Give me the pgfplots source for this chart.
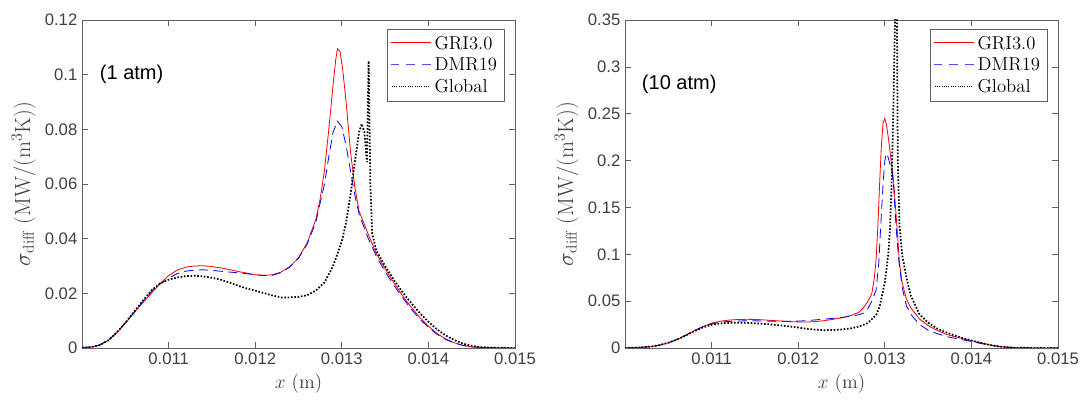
\documentclass[border=0pt]{standalone}
\usepackage{pgfplots}
\pgfplotsset{compat=1.18}
\usepackage{fontspec}
\newfontfamily\helv{Liberation Sans}
\definecolor{axgray}{gray}{0.38}
\definecolor{txtgray}{gray}{0.25}
\definecolor{legblue}{rgb}{0.3,0.3,1}

% legend samples built from coloured rules
\newcommand{\legsolid}{{\color{red}\rule[-0.35pt]{30pt}{0.7pt}}}
\newcommand{\legdash}{{\color{legblue}\rule[-0.35pt]{6.5pt}{0.7pt}\hspace{5.25pt}%
  \rule[-0.35pt]{6.5pt}{0.7pt}\hspace{5.25pt}\rule[-0.35pt]{6.5pt}{0.7pt}}}
\newcommand{\legdot}{{\color{black}\hbox to 30pt{\leaders\hbox to 1.7pt{\hss\rule[-0.35pt]{0.7pt}{0.7pt}\hss}\hfill}}}

\pgfplotsset{
  panel/.style={
    scale only axis,
    width=324.75pt, height=246pt,
    xmin=0.010, xmax=0.015, ymin=0,
    xtick={0.011,0.012,0.013,0.014,0.015},
    scaled x ticks=false, scaled y ticks=false,
    xticklabel style={/pgf/number format/fixed, /pgf/number format/precision=3},
    yticklabel style={/pgf/number format/fixed, /pgf/number format/precision=3},
    /pgf/number format/assume math mode=true,
    tick label style={font=\helv\fontsize{12.5}{14}\selectfont, text=txtgray},
    xlabel style={font=\fontsize{14.5}{16}\selectfont, text=txtgray},
    ylabel style={font=\fontsize{16.5}{18}\selectfont, text=txtgray},
    axis line style={axgray, line width=0.5pt},
    every tick/.style={axgray, line width=0.5pt},
    major tick length=4.5pt,
    tick align=inside,
    xlabel={$x$ (m)},
    ylabel={$\sigma_{\mathrm{diff}}$ (MW/(m$^3$K))},
    legend cell align=left,
    legend style={at={(0.975,0.973)}, anchor=north east, draw=axgray,
      font=\fontsize{14}{16}\selectfont, inner sep=2.5pt,
      nodes={inner sep=2.6pt}},
  },
  gri/.style={color=red, line width=0.6pt,
    legend image code/.code={\node[anchor=west, inner sep=0pt] at (0pt,0pt) {\legsolid};}},
  dmr/.style={color=blue, line width=0.6pt, dash pattern=on 7pt off 4pt,
    legend image code/.code={\node[anchor=west, inner sep=0pt] at (0pt,0pt) {\legdash};}},
  glob/.style={color=black, line width=1.3pt, dash pattern=on 1.2pt off 1.3pt,
    legend image code/.code={\node[anchor=west, inner sep=0pt] at (0pt,0pt) {\legdot};}},
}

\begin{document}
\begin{tikzpicture}
\useasboundingbox (-61.5pt,-41.25pt) rectangle (750.75pt,261pt);

% ---- 1 atm ----
\begin{axis}[panel, at={(0pt,0pt)}, ymax=0.12, ytick={0,0.02,0.04,0.06,0.08,0.1,0.12}]
\addplot[gri] coordinates {
(0.0100,0.0000)(0.0101,0.0003)(0.0102,0.0010)(0.0103,0.0027)(0.0104,0.0055)
(0.0105,0.0090)(0.0106,0.0128)(0.0107,0.0165)(0.0108,0.0200)(0.0109,0.0235)
(0.0110,0.0265)(0.0111,0.0285)(0.0112,0.0296)(0.0113,0.0300)(0.0114,0.0301)
(0.0115,0.0298)(0.0116,0.0293)(0.0117,0.0287)(0.0118,0.0280)(0.0119,0.0274)
(0.0120,0.0268)(0.0121,0.0266)(0.0122,0.0268)(0.0123,0.0278)(0.0124,0.0298)
(0.0125,0.0330)(0.0126,0.0385)(0.0127,0.0470)(0.01275,0.0545)(0.0128,0.0650)
(0.01285,0.0800)(0.0129,0.0965)(0.01293,0.1055)(0.01295,0.1095)(0.01298,0.1085)
(0.01301,0.1020)(0.01305,0.0900)(0.0131,0.0720)(0.01315,0.0590)(0.0132,0.0500)
(0.0133,0.0420)(0.0134,0.0345)(0.0135,0.0290)(0.0136,0.0240)(0.0137,0.0192)
(0.0138,0.0150)(0.0139,0.0112)(0.0140,0.0080)(0.0141,0.0053)(0.0142,0.0033)
(0.0143,0.0019)(0.0144,0.0010)(0.0145,0.0004)(0.0147,0.0001)(0.0150,0.0000)
};
\addlegendentry{GRI3.0}
\addplot[dmr] coordinates {
(0.0100,0.0002)(0.0101,0.0004)(0.0102,0.0011)(0.0103,0.0028)(0.0104,0.0056)
(0.0105,0.0092)(0.0106,0.0130)(0.0107,0.0168)(0.0108,0.0205)(0.01085,0.0226)
(0.0109,0.0234)(0.0110,0.0255)(0.0111,0.0272)(0.0112,0.0281)(0.0113,0.0285)
(0.0114,0.0286)(0.0115,0.0284)(0.0116,0.0281)(0.0117,0.0278)(0.0118,0.0275)
(0.0119,0.0272)(0.0120,0.0268)(0.0121,0.0265)(0.0122,0.0266)(0.0123,0.0276)
(0.0124,0.0296)(0.0125,0.0328)(0.0126,0.0380)(0.0127,0.0460)(0.0128,0.0600)
(0.01285,0.0700)(0.0129,0.0790)(0.01295,0.0830)(0.0130,0.0810)(0.01305,0.0740)
(0.0131,0.0650)(0.01315,0.0560)(0.0132,0.0490)(0.0133,0.0405)(0.0134,0.0335)
(0.0135,0.0280)(0.0136,0.0230)(0.0137,0.0185)(0.0138,0.0143)(0.0139,0.0106)
(0.0140,0.0075)(0.0141,0.0050)(0.0142,0.0031)(0.0143,0.0018)(0.0144,0.0009)
(0.0145,0.0004)(0.0147,0.0001)(0.0150,0.0000)
};
\addlegendentry{DMR19}
\addplot[glob] coordinates {
(0.0100,0.0001)(0.0101,0.0003)(0.0102,0.0010)(0.0103,0.0027)(0.0104,0.0056)
(0.0105,0.0092)(0.0106,0.0132)(0.0107,0.0172)(0.0108,0.0210)(0.0109,0.0236)
(0.0110,0.0250)(0.0111,0.0258)(0.0112,0.0263)(0.0113,0.0264)(0.0114,0.0262)
(0.0115,0.0257)(0.0116,0.0250)(0.0117,0.0240)(0.0118,0.0228)(0.0119,0.0218)
(0.0120,0.0210)(0.0121,0.0201)(0.0122,0.0192)(0.0123,0.0185)(0.0124,0.0185)
(0.0125,0.0187)(0.0126,0.0193)(0.0127,0.0210)(0.0128,0.0240)(0.0129,0.0300)
(0.0130,0.0390)(0.01305,0.0460)(0.0131,0.0560)(0.01315,0.0680)(0.0132,0.0790)
(0.01323,0.0820)(0.01326,0.0790)(0.01329,0.0680)(0.01331,0.1050)(0.01333,0.0600)
(0.01335,0.0420)(0.0134,0.0355)(0.0135,0.0300)(0.0136,0.0250)(0.0137,0.0205)
(0.0138,0.0165)(0.0139,0.0128)(0.0140,0.0096)(0.0141,0.0068)(0.0142,0.0046)
(0.0143,0.0029)(0.0144,0.0016)(0.0145,0.0008)(0.0146,0.0003)(0.0148,0.0001)
(0.0150,0.0000)
};
\addlegendentry{Global}
\node[anchor=west, inner sep=0pt, font=\helv\fontsize{15}{17}\selectfont]
  at (axis cs:0.010204,0.1) {(1 atm)};
\end{axis}

% ---- 10 atm ----
\begin{axis}[panel, at={(407.25pt,0pt)}, ymax=0.35,
  ytick={0,0.05,0.1,0.15,0.2,0.25,0.3,0.35}]
\addplot[gri] coordinates {
(0.0100,0.0000)(0.0101,0.0003)(0.0102,0.0008)(0.0103,0.0014)(0.0104,0.0030)
(0.0105,0.0055)(0.0106,0.0090)(0.0107,0.0135)(0.0108,0.0185)(0.0109,0.0230)
(0.0110,0.0265)(0.0111,0.0285)(0.0112,0.0298)(0.0113,0.0304)(0.0114,0.0306)
(0.0115,0.0305)(0.0116,0.0300)(0.0117,0.0294)(0.0118,0.0288)(0.0119,0.0282)
(0.0120,0.0278)(0.0121,0.0277)(0.0122,0.0282)(0.0123,0.0292)(0.0124,0.0306)
(0.0125,0.0322)(0.0126,0.0345)(0.0127,0.0380)(0.01275,0.0425)(0.0128,0.0490)
(0.01285,0.0580)(0.01288,0.0750)(0.0129,0.0950)(0.01292,0.1300)(0.01294,0.1750)
(0.01296,0.2150)(0.01298,0.2400)(0.0130,0.2450)(0.01302,0.2380)(0.01304,0.2250)
(0.01306,0.2100)(0.01308,0.1950)(0.0131,0.1800)(0.01314,0.1300)(0.01317,0.0900)
(0.0132,0.0700)(0.01325,0.0520)(0.0133,0.0430)(0.0134,0.0310)(0.0135,0.0240)
(0.0136,0.0190)(0.0137,0.0150)(0.0138,0.0122)(0.0139,0.0100)(0.0140,0.0078)
(0.0141,0.0056)(0.0142,0.0036)(0.0143,0.0020)(0.0144,0.0010)(0.0145,0.0004)
(0.0147,0.0001)(0.0150,0.0000)
};
\addlegendentry{GRI3.0}
\addplot[dmr] coordinates {
(0.0100,0.0000)(0.0101,0.0003)(0.0102,0.0008)(0.0103,0.0015)(0.0104,0.0031)
(0.0105,0.0056)(0.0106,0.0091)(0.0107,0.0136)(0.0108,0.0184)(0.0109,0.0226)
(0.0110,0.0258)(0.0111,0.0275)(0.0112,0.0284)(0.0113,0.0288)(0.0114,0.0290)
(0.0115,0.0290)(0.0116,0.0288)(0.0117,0.0286)(0.0118,0.0285)(0.0119,0.0285)
(0.0120,0.0287)(0.0121,0.0292)(0.0122,0.0300)(0.0123,0.0308)(0.0124,0.0316)
(0.0125,0.0325)(0.0126,0.0338)(0.0127,0.0355)(0.01275,0.0370)(0.0128,0.0410)
(0.01285,0.0500)(0.0129,0.0620)(0.01293,0.0900)(0.01295,0.1250)(0.01298,0.1750)
(0.0130,0.2000)(0.01302,0.2078)(0.01304,0.2030)(0.01306,0.1960)(0.01308,0.1900)
(0.0131,0.1750)(0.01313,0.1300)(0.01316,0.0950)(0.0132,0.0650)(0.01325,0.0450)
(0.0133,0.0360)(0.0134,0.0250)(0.0135,0.0190)(0.0136,0.0155)(0.0137,0.0125)
(0.0138,0.0105)(0.0139,0.0088)(0.0140,0.0070)(0.0141,0.0050)(0.0142,0.0032)
(0.0143,0.0018)(0.0144,0.0009)(0.0145,0.0003)(0.0147,0.0001)(0.0150,0.0000)
};
\addlegendentry{DMR19}
\addplot[glob] coordinates {
(0.0100,0.0000)(0.0101,0.0003)(0.0102,0.0008)(0.0103,0.0015)(0.0104,0.0031)
(0.0105,0.0056)(0.0106,0.0090)(0.0107,0.0133)(0.0108,0.0180)(0.0109,0.0220)
(0.0110,0.0248)(0.0111,0.0262)(0.0112,0.0268)(0.0113,0.0270)(0.0114,0.0268)
(0.0115,0.0264)(0.0116,0.0258)(0.0117,0.0250)(0.0118,0.0240)(0.0119,0.0230)
(0.0120,0.0218)(0.0121,0.0205)(0.0122,0.0195)(0.0123,0.0190)(0.0124,0.0192)
(0.0125,0.0198)(0.0126,0.0208)(0.0127,0.0228)(0.0128,0.0265)(0.0129,0.0350)
(0.01294,0.0440)(0.0130,0.0700)(0.01304,0.1000)(0.01306,0.1260)(0.01308,0.1800)
(0.0131,0.2600)(0.01312,0.3600)(0.01313,0.4500)(0.01314,0.3600)(0.01315,0.2000)
(0.01317,0.1300)(0.0132,0.1000)(0.01325,0.0750)(0.0133,0.0560)(0.0134,0.0360)
(0.0135,0.0270)(0.0136,0.0210)(0.0137,0.0170)(0.0138,0.0135)(0.0139,0.0105)
(0.0140,0.0080)(0.0141,0.0056)(0.0142,0.0035)(0.0143,0.0018)(0.0144,0.0008)
(0.0145,0.0003)(0.0147,0.0001)(0.0150,0.0000)
};
\addlegendentry{Global}
\node[anchor=west, inner sep=0pt, font=\helv\fontsize{15}{17}\selectfont]
  at (axis cs:0.010193,0.281) {(10 atm)};
\end{axis}
\end{tikzpicture}
\end{document}
